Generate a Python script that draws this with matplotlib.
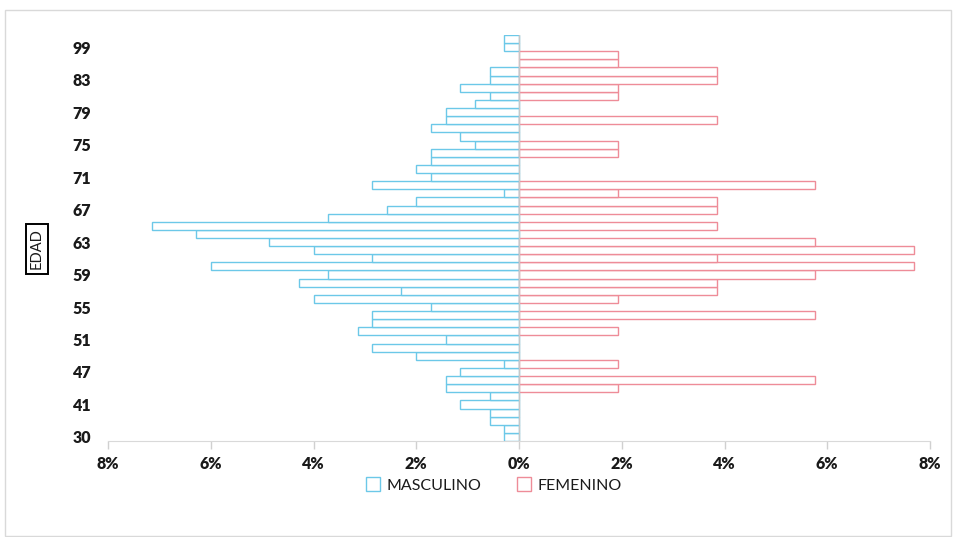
import numpy as np
import matplotlib
matplotlib.use("Agg")
import matplotlib.pyplot as plt
from matplotlib.patches import Rectangle

# categories from bottom to top (only every 4th one gets a tick label)
edades = ["30", "35", "37", "39", "41", "42", "44", "45", "47", "48",
          "49", "50", "51", "52", "53", "54", "55", "56", "57", "58",
          "59", "60", "61", "62", "63", "64", "65", "66", "67", "68",
          "69", "70", "71", "72", "73", "74", "75", "76", "77", "78",
          "79", "80", "81", "82", "83", "84", "85", "86", "99", "100"]

# percentages
masculino = [0.29, 0.29, 0.57, 0.57, 1.14, 0.57, 1.43, 1.43, 1.14, 0.29,
             2.00, 2.86, 1.43, 3.14, 2.86, 2.86, 1.71, 4.00, 2.29, 4.29,
             3.71, 6.00, 2.86, 4.00, 4.86, 6.29, 7.14, 3.71, 2.57, 2.00,
             0.29, 2.86, 1.71, 2.00, 1.71, 1.71, 0.86, 1.14, 1.71, 1.43,
             1.43, 0.86, 0.57, 1.14, 0.57, 0.57, 0.00, 0.00, 0.29, 0.29]

femenino = [0, 0, 0, 0, 0, 0, 1.92, 5.77, 0, 1.92,
            0, 0, 0, 1.92, 0, 5.77, 0, 1.92, 3.85, 3.85,
            5.77, 7.69, 3.85, 7.69, 5.77, 0, 3.85, 0, 3.85, 3.85,
            1.92, 5.77, 0, 0, 0, 1.92, 1.92, 0, 0, 3.85,
            0, 0, 1.92, 1.92, 3.85, 3.85, 1.92, 1.92, 0, 0]

xticks = [-8, -6, -4, -2, 0, 2, 4, 6, 8]

col_m = "#6cc8e8"
col_f = "#ee8c98"

fig = plt.figure(figsize=(9.57, 5.37), dpi=100)
ax = fig.add_axes([108 / 957, 1 - 441 / 537, 822 / 957, 406 / 537])

pos = np.arange(len(edades))
m = np.array(masculino)
f = np.array(femenino)

ax.barh(pos[m > 0], -m[m > 0], height=1.0, facecolor="white",
        edgecolor=col_m, linewidth=1.0, label="MASCULINO")
ax.barh(pos[f > 0], f[f > 0], height=1.0, facecolor="white",
        edgecolor=col_f, linewidth=1.0, label="FEMENINO")

ax.axvline(0, color="#c8c8c8", lw=1.0, zorder=3)

ax.set_xlim(-8, 8)
ax.set_ylim(-0.5, len(edades) - 0.5)
ax.set_xticks(xticks)
ax.set_xticklabels([str(abs(t)) + "%" for t in xticks])
ax.set_yticks(pos[::4])
ax.set_yticklabels(edades[::4])

for lab in ax.get_xticklabels() + ax.get_yticklabels():
    lab.set_fontfamily("Lato")
    lab.set_fontweight("heavy")
    lab.set_fontsize(11.5)
    lab.set_color("#1a1a1a")

ax.tick_params(axis="y", length=0, pad=12)
ax.tick_params(axis="x", direction="out", length=6, width=1,
               color="#d0d0d0", pad=5)

for s in ["left", "right", "top"]:
    ax.spines[s].set_visible(False)
ax.spines["bottom"].set_color("#d9d9d9")

# y axis title in a box
fig.text(37 / 957, 1 - 249 / 537, "EDAD", rotation=90, ha="center",
         va="center", fontsize=10.5, family="Lato", color="#1a1a1a",
         bbox=dict(boxstyle="square,pad=0.3", facecolor="white",
                   edgecolor="black", linewidth=1.4))

leg = fig.legend(loc="center", bbox_to_anchor=(494 / 957, 1 - 485 / 537),
                 ncol=2, frameon=False, handlelength=0.9, handleheight=0.9,
                 columnspacing=2.2, handletextpad=0.4, borderpad=0.2,
                 prop={"family": "Lato", "size": 11.5})
for t in leg.get_texts():
    t.set_color("#1a1a1a")

# chart area border
fig.patches.append(Rectangle((5 / 957, 0.002), 946 / 957, 1 - 10 / 537 - 0.002,
                             transform=fig.transFigure, fill=False,
                             edgecolor="#d9d9d9", linewidth=1.0))

fig.savefig("out.png", dpi=100)
